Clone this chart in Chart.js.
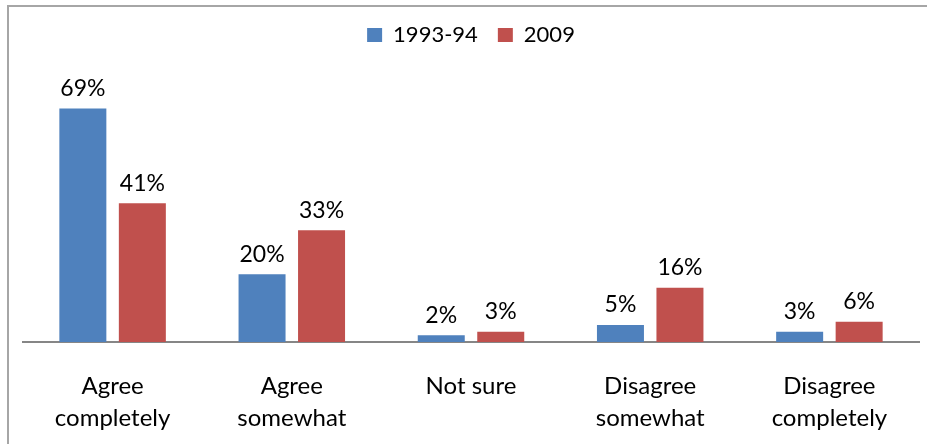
<!DOCTYPE html>
<html>
<head>
<meta charset="utf-8">
<script src="https://cdn.jsdelivr.net/npm/chart.js@4"></script>
<style>
html,body{margin:0;padding:0;background:#fff;}
#wrap{position:absolute;left:0;top:0;width:927px;height:444px;}
#frame{position:absolute;left:7px;top:5px;width:940px;height:460px;border:2px solid #a6a6a6;box-sizing:border-box;pointer-events:none;}
</style>
</head>
<body>
<div id="wrap"><canvas id="c" width="927" height="444"></canvas></div>
<div id="frame"></div>
<script>
const categories = [["Agree","completely"],["Agree","somewhat"],["Not sure"],["Disagree","somewhat"],["Disagree","completely"]];
const seriesNames = ["1993-94","2009"];
const values1993 = [69, 20, 2, 5, 3];
const values2009 = [41, 33, 3, 16, 6];
const colors = ["#4F81BD","#C0504D"];
const FONT = "Lato";

const labelPlugin = {
  id: 'barLabels',
  afterDatasetsDraw(chart) {
    const ctx = chart.ctx;
    ctx.save();
    ctx.font = "23px " + FONT;
    ctx.fillStyle = "#000";
    ctx.textAlign = "center";
    ctx.textBaseline = "middle";
    chart.data.datasets.forEach((ds, i) => {
      const meta = chart.getDatasetMeta(i);
      meta.data.forEach((bar, j) => {
        ctx.fillText(ds.data[j] + "%", bar.x, bar.y - 20);
      });
    });
    ctx.restore();
  }
};

new Chart(document.getElementById('c'), {
  type: 'bar',
  data: {
    labels: categories,
    datasets: [
      {label: seriesNames[0], data: values1993, backgroundColor: colors[0]},
      {label: seriesNames[1], data: values2009, backgroundColor: colors[1]}
    ]
  },
  options: {
    responsive: false,
    animation: false,
    devicePixelRatio: 1,
    categoryPercentage: 0.664,
    barPercentage: 0.79,
    layout: {padding: {left: 23, right: 8, top: 4, bottom: 0}},
    plugins: {
      legend: {
        position: 'top',
        labels: {
          boxWidth: 15, boxHeight: 14, padding: 20,
          color: '#000',
          font: {family: FONT, size: 22}
        }
      },
      tooltip: {enabled: false}
    },
    scales: {
      y: {display: false, min: 0, max: 84.5},
      x: {
        grid: {display: false, drawTicks: false},
        border: {display: true, color: '#868686', width: 2},
        ticks: {color: '#000', font: {family: FONT, size: 24, lineHeight: 1.3}, padding: 29, maxRotation: 0, autoSkip: false},
        afterFit(s) { s.height = 102; }
      }
    }
  },
  plugins: [labelPlugin]
});
</script>
</body>
</html>
